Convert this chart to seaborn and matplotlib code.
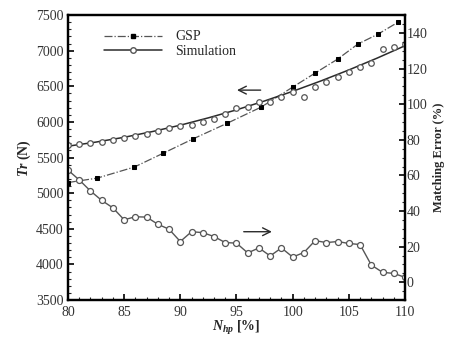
import numpy as np
import matplotlib
matplotlib.use("Agg")
import matplotlib.pyplot as plt
import seaborn as sns
from matplotlib.lines import Line2D
from matplotlib.ticker import MultipleLocator

# data
gsp_x = [80, 82.6, 85.9, 88.5, 91.1, 94.2, 97.2, 100.0, 102.0, 104.0, 105.8, 107.6, 109.4]
gsp_y = [5150, 5212, 5367, 5563, 5760, 5984, 6209, 6489, 6686, 6882, 7093, 7233, 7402]

sim_x = list(range(80, 111))
sim_y = [5670, 5685, 5700, 5722, 5746, 5778, 5802, 5826, 5877, 5910,
         5945, 5960, 5995, 6040, 6110, 6190, 6209, 6279, 6279, 6355,
         6415, 6349, 6489, 6560, 6630, 6700, 6770, 6826, 7023, 7051, 7100]

fit_x = [80, 82.5, 85, 87.5, 90, 92.5, 95, 97.5, 100, 102.5, 105, 107.5, 110]
fit_y = [5660, 5718, 5785, 5865, 5955, 6058, 6170, 6295, 6430, 6575, 6730, 6895, 7070]

err_x = list(range(80, 111))
err_y = [63, 57.5, 51.3, 46, 41.8, 35.1, 36.8, 36.6, 32.6, 29.8,
         22.9, 28.4, 27.9, 25.7, 22.3, 22.0, 16.5, 19.3, 14.8, 19.3,
         14.2, 16.7, 23.4, 22.3, 22.9, 21.8, 21.2, 9.7, 5.6, 5.0, 2.8]

sns.set_style("ticks")
plt.rcParams['font.family'] = ['Liberation Serif', 'DejaVu Serif']
plt.rcParams['mathtext.fontset'] = 'custom'
plt.rcParams['mathtext.it'] = 'Liberation Serif:italic:bold'
plt.rcParams['mathtext.bf'] = 'Liberation Serif:bold'

dark = '#2b2b2b'
grey = '#555555'

fig, ax = plt.subplots(figsize=(4.5, 3.43), dpi=100)
fig.subplots_adjust(left=0.151, right=0.9, top=0.956, bottom=0.125)

# GSP
sns.lineplot(x=gsp_x, y=gsp_y, ax=ax, color=grey, linestyle='-.', linewidth=0.9,
             marker='s', markersize=3.5, markerfacecolor='black',
             markeredgecolor='black')
# Simulation fit line + points
sns.lineplot(x=fit_x, y=fit_y, ax=ax, color=dark, linewidth=1.1)
sns.scatterplot(x=sim_x, y=sim_y, ax=ax, marker='o', s=16, facecolor='white',
                edgecolor=grey, linewidth=0.9, zorder=3)

ax.set_xlim(80, 110)
ax.set_ylim(3500, 7500)
ax.xaxis.set_major_locator(MultipleLocator(5))
ax.xaxis.set_minor_locator(MultipleLocator(1))
ax.yaxis.set_major_locator(MultipleLocator(500))
ax.yaxis.set_minor_locator(MultipleLocator(100))

ax.set_xlabel(r'$N_{hp}$ [%]', fontsize=10, fontweight='bold', labelpad=0)
ax.set_ylabel(r'$Tr$ (N)', fontsize=10, fontweight='bold', labelpad=2)

# matching error on the right axis
ax2 = ax.twinx()
sns.lineplot(x=err_x, y=err_y, ax=ax2, color=grey, linewidth=1.0,
             marker='o', markersize=4.3, markerfacecolor='white',
             markeredgecolor=grey, markeredgewidth=0.9)
ax2.set_ylim(-10, 150)
ax2.yaxis.set_major_locator(MultipleLocator(20))
ax2.yaxis.set_minor_locator(MultipleLocator(5))
ax2.set_yticks([0, 20, 40, 60, 80, 100, 120, 140])
ax2.set_ylabel('Matching Error (%)', fontsize=9, fontweight='bold', labelpad=4)

for a in (ax, ax2):
    for s in a.spines.values():
        s.set_linewidth(1.6)
        s.set_color('black')
    a.tick_params(which='major', direction='in', length=4, width=1.2,
                  labelsize=10, colors='black', labelcolor='#333333')
    a.tick_params(which='minor', direction='in', length=2, width=0.8)
ax.tick_params(axis='x', which='both', top=False, pad=4)
ax.tick_params(axis='y', which='both', right=False, pad=3)
ax2.tick_params(axis='y', which='both', pad=1)

# arrows pointing to the axes
ax.annotate('', xy=(94.8, 6447), xytext=(97.4, 6447),
            arrowprops=dict(arrowstyle='->', color=dark, lw=1.0,
                            mutation_scale=14))
ax2.annotate('', xy=(98.4, 28.4), xytext=(95.4, 28.4),
             arrowprops=dict(arrowstyle='->', color=dark, lw=1.0,
                             mutation_scale=14))

handles = [
    Line2D([], [], color=grey, linestyle='-.', linewidth=0.9, marker='s',
           markersize=3.5, markerfacecolor='black', markeredgecolor='black'),
    Line2D([], [], color=dark, linewidth=1.1, marker='o', markersize=4,
           markerfacecolor='white', markeredgecolor=grey),
]
ax2.legend(handles, ['GSP', 'Simulation'], loc='upper left',
           bbox_to_anchor=(0.07, 0.99), frameon=False, fontsize=10,
           handlelength=4.2, handletextpad=0.9, labelspacing=0.1)

plt.savefig('out.png', dpi=100)
